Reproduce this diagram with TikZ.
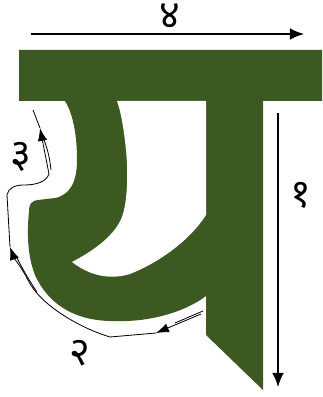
\documentclass[tikz,border=0pt]{standalone}
\usepackage{fontspec}
\usepackage{xcolor}
\usepackage{tikz}
\usetikzlibrary{arrows.meta}
\newfontfamily\devfont[Script=Devanagari]{Noto Sans}
\definecolor{yagreen}{RGB}{61, 89, 34}

\tikzset{
  glyph/.style={fill=yagreen, draw=none},
  bigstroke/.style={line width=1.4pt, -{Latex[length=12pt, width=10pt]}},
  pen/.style={line width=0.7pt, line join=round},
  pentip/.style={pen, -{Latex[length=11pt, width=8pt]}},
  digit/.style={font=\devfont\fontsize{34}{38}\selectfont, inner sep=0pt}
}

\begin{document}
\begin{tikzpicture}[x=0.03cm, y=-0.03cm]
\useasboundingbox (0,0) rectangle (322,397);
% letter ya
\fill[glyph] (19,50) -- (322,50) -- (322,101) -- (263,101) -- (263,390)
  -- (206,335) -- (206,296)
  .. controls (185,312) and (150,322) .. (117,321)
  .. controls (80,322) and (50,308) .. (35,275)
  .. controls (27,255) and (27,230) .. (29,212)
  .. controls (29,204) and (31,201) .. (38,200) -- (55,198)
  .. controls (70,195) and (77,182) .. (77,160)
  .. controls (77,132) and (72,112) .. (65,101) -- (19,101) -- cycle;
\fill[white] (117,101) -- (206,101) -- (206,215)
  .. controls (190,240) and (160,262) .. (130,274)
  .. controls (110,280) and (90,276) .. (72,262)
  .. controls (95,250) and (115,235) .. (122,217)
  .. controls (128,200) and (128,170) .. (126,150)
  .. controls (124,130) and (121,112) .. (117,101) -- cycle;
% stroke 4 (top bar)
\coordinate (s4) at (31,34);
\coordinate (e4) at (304,34);
\draw[bigstroke] (s4) -- (e4);
\node[digit] (n4) at (170,16) {४};
% stroke 1 (right stem)
\coordinate (s1) at (278,113);
\coordinate (e1) at (278,387);
\draw[bigstroke] (s1) -- (e1);
\node[digit] (n1) at (301,195) {१};
% stroke 2 (bowl)
\coordinate (s2) at (201,314);
\coordinate (a2) at (156,333);
\coordinate (b2) at (110,337);
\coordinate (a3) at (10,247);
\draw[pentip] (s2) -- (a2);
\draw[pen] (203,311) -- (175,323);
\draw[pentip] (a2) -- (b2) .. controls (80,328) and (40,305) .. (28,280)
  .. controls (22,268) and (14,258) .. (a3);
\draw[pen] (16,256) .. controls (22,268) and (30,282) .. (37,292);
\node[digit] (n2) at (80,353) {२};
% stroke 3 (left hook)
\coordinate (a4) at (40,128);
\coordinate (e3) at (33,110);
\draw[pentip] (a3) -- (7,195) .. controls (8,188) and (15,185) .. (24,185)
  .. controls (36,185) and (46,182) .. (49,174) -- (a4);
\draw[pen] (a4) -- (e3);
\draw[pen] (44,140) .. controls (48,150) and (50,160) .. (51,170);
\node[digit] (n3) at (21,157) {३};
\end{tikzpicture}
\end{document}
